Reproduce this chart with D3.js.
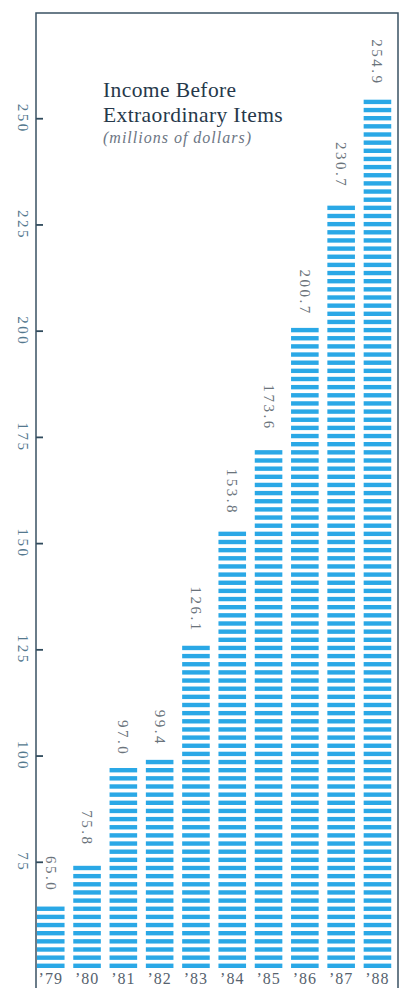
<!DOCTYPE html>
<html>
<head>
<meta charset="utf-8">
<script src="https://cdn.jsdelivr.net/npm/d3@7"></script>
<style>
  body { margin: 0; background: #fff; }
  text { font-family: "Liberation Serif", "DejaVu Serif", serif; }
</style>
</head>
<body>
<div id="chart"></div>
<script>
const years = ["’79", "’80", "’81", "’82", "’83", "’84", "’85", "’86", "’87", "’88"];
const income = [65.0, 75.8, 97.0, 99.4, 126.1, 153.8, 173.6, 200.7, 230.7, 254.9];
const yTicks = [75, 100, 125, 150, 175, 200, 225, 250];

const width = 403, height = 988;

const svg = d3.select("#chart")
    .append("svg")
    .attr("width", width)
    .attr("height", height);

const y = d3.scaleLinear()
    .domain([50, 275])
    .range([968, 12]);

const x = d3.scaleBand()
    .domain(years)
    .range([32.6, 395.6])
    .paddingInner(0.24)
    .paddingOuter(0.12);

// each bar is a stack of stripes counted up from the baseline
const period = 8.15, stripe = 4.4;

const bars = svg.append("g")
    .selectAll("g")
    .data(income)
    .join("g")
    .attr("transform", (d, i) => `translate(${x(years[i])},0)`);

bars.selectAll("rect")
    .data(d => d3.range(Math.max(1, Math.round((y(50) - y(d)) / period))))
    .join("rect")
    .attr("x", 0)
    .attr("y", k => y(50) - k * period - stripe)
    .attr("width", x.bandwidth())
    .attr("height", stripe)
    .attr("fill", "#2aa8e6");

// value labels, rotated
svg.append("g")
    .selectAll("text")
    .data(income)
    .join("text")
    .attr("transform", (d, i) => `translate(${x(years[i]) + x.bandwidth() / 2 - 5},${y(d) - 12}) rotate(90)`)
    .attr("text-anchor", "end")
    .attr("font-size", 15)
    .attr("letter-spacing", 2.5)
    .attr("fill", "#6a737b")
    .text(d => d.toFixed(1));

// y axis
const yAxis = svg.append("g")
    .attr("transform", "translate(36,0)")
    .call(d3.axisLeft(y).tickValues(yTicks).tickSizeInner(-7).tickSizeOuter(0));
yAxis.select(".domain").remove();
yAxis.selectAll("line").attr("stroke", "#2f4a5c").attr("stroke-width", 1.8);
yAxis.selectAll("text")
    .attr("x", 0)
    .attr("dy", 0)
    .attr("text-anchor", "middle")
    .attr("transform", "translate(-18,0) rotate(90)")
    .attr("font-family", "Liberation Serif")
    .attr("font-size", 15)
    .attr("letter-spacing", 2.5)
    .attr("fill", "#54788e");

// x labels
svg.append("g")
    .selectAll("text")
    .data(years)
    .join("text")
    .attr("x", d => x(d) + x.bandwidth() / 2)
    .attr("y", 984)
    .attr("text-anchor", "middle")
    .attr("font-size", 16)
    .attr("letter-spacing", 1)
    .attr("fill", "#56626e")
    .text(d => d);

// frame
svg.append("path")
    .attr("d", "M36,988V13H398V988")
    .attr("fill", "none")
    .attr("stroke", "#3a5263")
    .attr("stroke-width", 1.5);

// title
const title = svg.append("g").attr("transform", "translate(103,0)");
title.append("text")
    .attr("y", 97)
    .attr("font-size", 21.5)
    .attr("letter-spacing", 0.4)
    .attr("fill", "#26384a")
    .text("Income Before");
title.append("text")
    .attr("y", 122)
    .attr("font-size", 21.5)
    .attr("letter-spacing", 0.4)
    .attr("fill", "#26384a")
    .text("Extraordinary Items");
title.append("text")
    .attr("y", 143)
    .attr("font-size", 16)
    .attr("font-style", "italic")
    .attr("letter-spacing", 1)
    .attr("fill", "#6d7684")
    .text("(millions of dollars)");
</script>
</body>
</html>
